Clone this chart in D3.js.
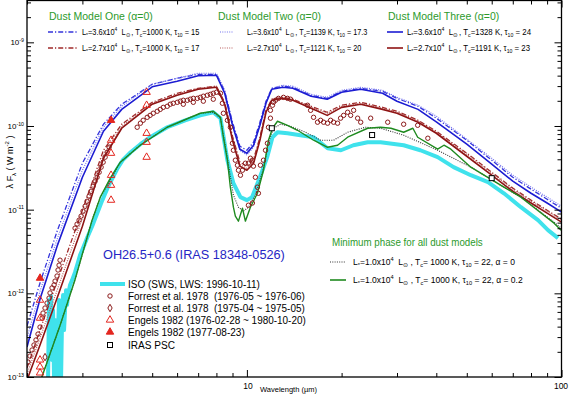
<!DOCTYPE html>
<html><head><meta charset="utf-8">
<script src="https://cdn.jsdelivr.net/npm/d3@7"></script>
<style>body{margin:0;background:#fff}svg{display:block}text{font-family:"Liberation Sans",Arial,Helvetica,sans-serif;white-space:pre}</style>
</head><body><svg id="c" width="570" height="396"></svg>
<script>
// ---------- data ----------
const lamGrid = [2,2.2,2.5,3,3.5,4,5,6,7,8,8.5,9,9.5,10,10.5,11,11.5,12,13,14,16,18,20,23,27,30,35,40,50,60,70,80,90,100];
const blueOne = [4.06e-13,1.33e-12,5.69e-12,3.59e-11,1.05e-10,1.82e-10,3.15e-10,3.72e-10,4.15e-10,4.15e-10,2.60e-10,1.11e-10,5.73e-11,5.13e-11,6.40e-11,1.11e-10,1.98e-10,2.82e-10,2.99e-10,2.90e-10,2.33e-10,2.14e-10,2.60e-10,2.82e-10,2.60e-10,2.14e-10,1.72e-10,1.24e-10,6.76e-11,3.90e-11,2.44e-11,1.76e-11,1.33e-11,1.04e-11];
const redOne = [1.28e-13,3.64e-13,1.44e-12,9.86e-12,5.13e-11,1.05e-10,1.92e-10,2.46e-10,2.82e-10,2.99e-10,1.92e-10,7.55e-11,3.69e-11,3.31e-11,4.01e-11,7.34e-11,1.54e-10,2.09e-10,2.20e-10,2.09e-10,1.72e-10,1.46e-10,1.77e-10,1.92e-10,1.67e-10,1.50e-10,1.17e-10,8.65e-11,4.73e-11,2.80e-11,1.81e-11,1.30e-11,9.86e-12,7.70e-12];
const blueTwo = [2.92e-13,1.06e-12,4.57e-12,2.96e-11,9.66e-11,1.72e-10,3.15e-10,3.72e-10,4.27e-10,4.27e-10,2.67e-10,1.08e-10,5.13e-11,4.48e-11,5.57e-11,1.05e-10,1.92e-10,2.82e-10,3.07e-10,2.99e-10,2.39e-10,2.20e-10,2.67e-10,2.90e-10,2.67e-10,2.20e-10,1.77e-10,1.31e-10,6.95e-11,4.12e-11,2.58e-11,1.86e-11,1.41e-11,1.10e-11];
const redTwo = [1.09e-13,2.92e-13,1.12e-12,7.92e-12,4.48e-11,9.93e-11,1.87e-10,2.39e-10,2.82e-10,2.99e-10,1.87e-10,7.14e-11,3.49e-11,3.13e-11,3.79e-11,7.14e-11,1.50e-10,2.09e-10,2.20e-10,2.09e-10,1.67e-10,1.42e-10,1.72e-10,1.87e-10,1.63e-10,1.46e-10,1.14e-10,8.42e-11,4.60e-11,2.73e-11,1.76e-11,1.26e-11,9.60e-12,7.49e-12];
const blueThree = [2.28e-13,8.54e-13,3.77e-12,2.44e-11,8.65e-11,1.58e-10,2.94e-10,3.42e-10,3.98e-10,4.04e-10,2.46e-10,1.02e-10,5.28e-11,4.73e-11,5.89e-11,1.02e-10,1.87e-10,2.75e-10,2.90e-10,2.83e-10,2.27e-10,2.09e-10,2.53e-10,2.75e-10,2.46e-10,1.98e-10,1.58e-10,1.12e-10,6.06e-11,3.49e-11,2.19e-11,1.57e-11,1.20e-11,9.33e-12];
const redThree = [9.2e-14,2.41e-13,9.02e-13,6.35e-12,4.12e-11,9.40e-11,1.82e-10,2.33e-10,2.75e-10,2.90e-10,1.82e-10,6.76e-11,3.31e-11,2.96e-11,3.59e-11,6.76e-11,1.46e-10,2.03e-10,2.14e-10,2.03e-10,1.63e-10,1.34e-10,1.67e-10,1.82e-10,1.58e-10,1.42e-10,1.11e-10,8.19e-11,4.35e-11,2.58e-11,1.66e-11,1.20e-11,9.08e-12,7.09e-12];

const minGreenLam = [2.23,2.55,2.84,3.22,3.42,3.68,3.96,4.58,5.58,7.11,7.82,8.24,8.42,8.67,8.86,9.06,9.19,9.40,9.68,9.89,10.26,10.80,11.29,11.71,12.06,12.51,13.46,14.48,16.29,18.05,19.42,20.9,24.2,26.6,28.7,31.5,33.7,34.9,40.4,42.3,44.5,51.5,65.6,74.3,94.7,99.7];
const minGreenF = [1.0e-13,4.18e-13,1.44e-12,7.49e-12,1.41e-11,2.38e-11,3.69e-11,5.89e-11,9.66e-11,1.42e-10,1.50e-10,1.27e-10,7.34e-11,3.90e-11,1.86e-11,1.07e-11,8.36e-12,7.29e-12,1.04e-11,7.29e-12,1.07e-11,1.57e-11,2.96e-11,6.76e-11,9.40e-11,1.14e-10,1.02e-10,8.89e-11,6.76e-11,5.57e-11,5.89e-11,7.34e-11,9.40e-11,9.66e-11,9.40e-11,8.42e-11,9.40e-11,7.34e-11,5.28e-11,5.89e-11,5.28e-11,3.22e-11,1.86e-11,1.41e-11,6.90e-12,5.69e-12];
const minDotLam = [2.23,2.55,2.84,3.22,3.42,3.96,4.58,5.58,7.11,7.82,8.24,8.67,9.06,9.40,9.75,10.11,10.64,11.29,11.71,12.15,12.79,13.76,15.36,17.15,18.86,20.9,23.8,26.6,31.5,40.4,51.5,65.6,74.3,94.7,99.7];
const minDotF = [1.0e-13,4.18e-13,1.44e-12,7.49e-12,1.41e-11,3.69e-11,5.89e-11,9.66e-11,1.42e-10,1.46e-10,1.24e-10,4.12e-11,1.49e-11,1.07e-11,9.60e-12,1.07e-11,1.49e-11,3.13e-11,6.40e-11,9.40e-11,1.05e-10,9.93e-11,8.42e-11,6.76e-11,6.76e-11,8.42e-11,9.66e-11,9.40e-11,7.76e-11,5.13e-11,3.22e-11,1.86e-11,1.41e-11,7.09e-12,6.01e-12];

const isoLam = [2.333,2.350,2.367,2.385,2.402,2.420,2.438,2.456,2.474,2.492,2.510,2.529,2.547,2.566,2.585,2.604,2.623,2.642,2.662,2.681,2.701,2.741,2.782,2.843,2.906,2.949,3.014,3.104,3.222,3.344,3.472,3.603,3.740,3.882,4.029,4.271,4.587,4.925,5.583,6.362,7.11,7.82,8.24,8.67,9.06,9.54,10.0,10.38,11.0,11.6,12.06,12.51,13.46,14.8,16.3,18.05,19.9,21.8,24.2,26.6,31.5,35.6,40.4,45.4,51.5,58.4,65.6,74.3,84.2,90.6,97.5];
const isoF = [9.2e-14,8.30e-13,3.64e-13,9.27e-13,1.60e-13,6.31e-13,9.2e-14,4.80e-13,2.77e-13,9.2e-14,3.64e-13,8.30e-13,2.77e-13,9.2e-14,4.80e-13,9.53e-13,3.64e-13,6.31e-13,1.09e-12,7.24e-13,9.53e-13,1.26e-12,1.44e-12,1.79e-12,2.36e-12,2.86e-12,3.47e-12,4.57e-12,6.35e-12,9.08e-12,1.30e-11,1.81e-11,2.38e-11,3.13e-11,3.90e-11,4.86e-11,6.06e-11,7.34e-11,9.66e-11,1.17e-10,1.34e-10,1.46e-10,1.24e-10,3.90e-11,2.07e-11,1.41e-11,1.30e-11,1.41e-11,2.44e-11,4.24e-11,7.34e-11,8.42e-11,8.19e-11,7.76e-11,7.34e-11,5.42e-11,5.13e-11,5.89e-11,6.40e-11,6.40e-11,5.89e-11,5.13e-11,4.24e-11,3.22e-11,2.58e-11,2.13e-11,1.57e-11,1.07e-11,7.49e-12,5.69e-12,4.57e-12];

const forrest76Lam = [2.015,2.044,2.075,2.105,2.136,2.168,2.200,2.233,2.249,2.282,2.316,2.350,2.367,2.402,2.438,2.456,2.492,2.510,2.529,2.547,
 2.843,2.885,2.928,2.971,3.014,3.060,3.104,3.151,3.198,3.245,3.293,3.341,3.391,3.441,3.492,3.543,3.596,3.649,
 4.480,4.587,4.681,4.821,4.925,5.039,5.188,5.304,5.422,5.583,5.707,5.835,6.010,6.144,6.279,6.466,6.609,6.756,6.957,7.11,7.270,7.486,7.653,7.82,8.0,6.279,6.756,7.270,7.82,
 8.24,8.357,8.42,8.67,8.86,8.995,9.06,9.19,9.331,9.40,9.54,9.68,9.89,10.11,10.26,10.41,10.49,10.64,10.80,10.88,10.11,10.41,11.04,11.29,11.46,11.62,11.71,11.88,11.88,12.06,12.15,12.33,12.60,13.07,13.46,13.76,
 15.59,15.94,16.29,16.77,17.15,17.53,18.05,18.45,18.86,19.42,19.85,20.30,20.9,21.37,21.84,22.49,23.0,24.74,28.03,31.5,34.9,37.6];
const forrest76F = [1.51e-13,1.78e-13,2.10e-13,2.41e-13,2.77e-13,3.26e-13,3.95e-13,5.06e-13,5.81e-13,6.67e-13,7.65e-13,8.77e-13,1.01e-12,1.16e-12,1.26e-12,1.40e-12,1.61e-12,1.90e-12,2.17e-12,2.49e-12,
 6.01e-12,6.71e-12,7.49e-12,8.36e-12,9.60e-12,1.10e-11,1.26e-11,1.45e-11,1.66e-11,1.91e-11,2.19e-11,2.44e-11,2.80e-11,3.22e-11,3.69e-11,4.24e-11,4.86e-11,5.57e-11,
 9.66e-11,1.08e-10,1.17e-10,1.27e-10,1.34e-10,1.42e-10,1.50e-10,1.58e-10,1.67e-10,1.72e-10,1.82e-10,1.87e-10,1.92e-10,1.98e-10,2.03e-10,2.03e-10,2.09e-10,2.14e-10,2.14e-10,2.20e-10,2.27e-10,2.33e-10,2.39e-10,2.46e-10,2.53e-10,1.82e-10,1.92e-10,1.98e-10,2.09e-10,
 2.46e-10,1.87e-10,1.42e-10,1.17e-10,9.66e-11,6.22e-11,5.13e-11,3.90e-11,3.40e-11,2.96e-11,2.58e-11,2.96e-11,3.59e-11,3.59e-11,4.12e-11,3.90e-11,3.31e-11,2.44e-11,1.86e-11,1.57e-11,1.13e-11,1.20e-11,3.40e-11,3.90e-11,5.13e-11,6.22e-11,9.66e-11,1.24e-10,1.54e-10,1.77e-10,1.92e-10,2.03e-10,2.14e-10,2.20e-10,2.14e-10,2.09e-10,
 1.77e-10,1.54e-10,1.27e-10,1.11e-10,1.17e-10,1.11e-10,1.08e-10,1.17e-10,1.11e-10,1.08e-10,1.24e-10,1.34e-10,1.46e-10,1.34e-10,1.54e-10,1.24e-10,1.11e-10,1.24e-10,1.11e-10,1.05e-10,1.02e-10,7.14e-11];
const forrest75Lam = [2.282];
const forrest75F = [1.73e-13];
const engelsLam = [2.2,2.2,2.2,2.2,2.2,3.7,3.7,3.7,3.7,3.7,4.8,4.8,4.8,4.8,4.8];
const engelsF = [8.30e-13,5.06e-13,1.60e-13,1.32e-13,1.12e-13,6.76e-11,4.73e-11,2.58e-11,1.96e-11,1.30e-11,2.53e-10,1.77e-10,8.19e-11,6.40e-11,4.24e-11];
const engels77Lam = [2.2,3.7];
const engels77F = [1.52e-12,1.17e-10];
const irasLam = [12,25,60];
const irasF = [9.4e-11,7.8e-11,2.38e-11];

const yMajor = [1e-13,1e-12,1e-11,1e-10,1e-9];
const yExp = ["-13","-12","-11","-10","-9"];
const xMajor = [10,100];
const xMajorLabels = ["10","100"];

const modelTitles = ["Dust Model One (α=0)","Dust Model Two (α=0)","Dust Model Three (α=0)"];
const modelLum = ["3.6","2.7"];
const modelTc = [["1000","1000"],["1139","1121"],["1328","1191"]];
const modelTau = [["15","17"],["17.3","20"],["24","23"]];
const minTitle = "Minimum phase for all dust models";
const minAlpha = ["0","0.2"];
const obsTitle = "OH26.5+0.6 (IRAS 18348-0526)";
const obsLabels = ["ISO (SWS, LWS: 1996-10-11)","Forrest et al. 1978  (1976-05 ~ 1976-06)","Forrest et al. 1978  (1975-04 ~ 1975-05)","Engels 1982 (1976-02-28 ~ 1980-10-20)","Engels 1982 (1977-08-23)","IRAS PSC"];

// ---------- setup ----------
const svg = d3.select("#c");
const X0=27, X1=561.5, Y0=0.5, Y1=377;
const x = d3.scaleLog().domain([2,100]).range([X0,X1]);
const y = d3.scaleLog().domain([1e-13,3.162e-9]).range([Y1,Y0]);
const FONT='"Liberation Sans",Arial,Helvetica,sans-serif';

svg.append("clipPath").attr("id","clip").append("rect")
  .attr("x",X0).attr("y",Y0).attr("width",X1-X0).attr("height",Y1-Y0);
const plot = svg.append("g").attr("clip-path","url(#clip)");
const zip = (a,b)=>a.map((v,i)=>[v,b[i]]);
const line = d3.line().x(d=>x(d[0])).y(d=>y(d[1]));

const C = {
  blue:"#1c1cd2", blueDD:"#3434dc", blueDot:"#7272ee",
  red:"#8e1414", redDD:"#a02a2a", redDot:"#b85a5a",
  green:"#1f8a1f", cyan:"#3fe2ec", circ:"#8b1a1a", tri:"#e3261f", title:"#2c9a2c"
};
const DD="5,2,1.2,2", DOT="1,1.3";

function drawLine(data,color,w,dash){
  const p=plot.append("path").datum(data).attr("d",line).attr("fill","none")
    .attr("stroke",color).attr("stroke-width",w).attr("stroke-linejoin","round");
  if(dash) p.attr("stroke-dasharray",dash);
}
// ISO
drawLine(zip(isoLam,isoF),C.cyan,4,null);
// models
drawLine(zip(lamGrid,blueOne),C.blueDD,1.3,DD);
drawLine(zip(lamGrid,redOne),C.redDD,1.3,DD);
drawLine(zip(lamGrid,blueTwo),C.blueDot,1.2,DOT);
drawLine(zip(lamGrid,redTwo),C.redDot,1.2,DOT);
drawLine(zip(lamGrid,blueThree),C.blue,1.6,null);
drawLine(zip(lamGrid,redThree),C.red,1.6,null);
drawLine(zip(minDotLam,minDotF),"#333",1.1,DOT);
drawLine(zip(minGreenLam,minGreenF),C.green,1.4,null);

// markers
plot.selectAll(".f76").data(zip(forrest76Lam,forrest76F)).join("circle")
  .attr("cx",d=>x(d[0])).attr("cy",d=>y(d[1])).attr("r",2.2)
  .attr("fill","none").attr("stroke",C.circ).attr("stroke-width",1);
const diamond=d3.symbol().type(d3.symbolDiamond).size(16);
const tri=d3.symbol().type(d3.symbolTriangle).size(24);
plot.selectAll(".f75").data(zip(forrest75Lam,forrest75F)).join("path")
  .attr("d",diamond).attr("transform",d=>`translate(${x(d[0])},${y(d[1])})`)
  .attr("fill","none").attr("stroke",C.circ).attr("stroke-width",1);
plot.selectAll(".e82").data(zip(engelsLam,engelsF)).join("path")
  .attr("d",tri).attr("transform",d=>`translate(${x(d[0])},${y(d[1])})`)
  .attr("fill","none").attr("stroke",C.tri).attr("stroke-width",1);
plot.selectAll(".e77").data(zip(engels77Lam,engels77F)).join("path")
  .attr("d",tri).attr("transform",d=>`translate(${x(d[0])},${y(d[1])})`)
  .attr("fill",C.tri).attr("stroke",C.tri).attr("stroke-width",1);
plot.selectAll(".ir").data(zip(irasLam,irasF)).join("rect")
  .attr("x",d=>x(d[0])-2.5).attr("y",d=>y(d[1])-2.5).attr("width",5).attr("height",5)
  .attr("fill","#fff").attr("stroke","#000").attr("stroke-width",1);

// ---------- axes ----------
const yMinor=[]; yMajor.forEach(v=>{for(let m=2;m<=9;m++){const t=v*m; if(t<3.16e-9) yMinor.push(t);}});
const xMinor=[]; [1,10].forEach(v=>{for(let m=2;m<=9;m++){const t=v*m; if(t>=2&&t<100) xMinor.push(t);}});
function ax(axisFn,scale,vals,size,tr){
  const g=svg.append("g").attr("transform",tr).call(axisFn(scale).tickValues(vals).tickSize(size).tickFormat(""));
  g.select(".domain").remove();
  g.selectAll("line").attr("stroke","#000").attr("stroke-width",1);
}
ax(d3.axisRight,y,yMajor,7,`translate(${X0},0)`);
ax(d3.axisRight,y,yMinor,4,`translate(${X0},0)`);
ax(d3.axisLeft,y,yMajor,7,`translate(${X1},0)`);
ax(d3.axisLeft,y,yMinor,4,`translate(${X1},0)`);
ax(d3.axisTop,x,xMajor,7,`translate(0,${Y1})`);
ax(d3.axisTop,x,xMinor,4,`translate(0,${Y1})`);
ax(d3.axisBottom,x,xMajor,7,`translate(0,${Y0})`);
ax(d3.axisBottom,x,xMinor,4,`translate(0,${Y0})`);
svg.append("rect").attr("x",X0).attr("y",Y0).attr("width",X1-X0).attr("height",Y1-Y0)
  .attr("fill","none").attr("stroke","#000").attr("stroke-width",1.3);

// rich text helper
function rich(parent,parts,x0,y0,size,color,anchor,targetW,rot){
  const t=parent.append("text").attr("x",0).attr("y",0).attr("font-size",size)
    .attr("fill",color).attr("text-anchor",anchor||"start").style("font-family",FONT);
  let cur=0;
  parts.forEach(p=>{
    const k=p[1]; const off=k==="sub"?size*0.28:k==="sup"?-size*0.42:0;
    const ts=t.append("tspan").attr("dy",off-cur).text(p[0]);
    if(k) ts.attr("font-size",size*0.66);
    cur=off;
  });
  let sx=1;
  if(targetW){const w=t.node().getComputedTextLength(); if(w>0) sx=targetW/w;}
  t.attr("transform",`translate(${x0},${y0})${rot?` rotate(${rot})`:""} scale(${sx},1)`);
  return t;
}
// y tick labels
yMajor.forEach((v,i)=>rich(svg,[["10"],[yExp[i],"sup"]],24,y(v)+3,8,"#000","end"));
xMajor.forEach((v,i)=>rich(svg,[[xMajorLabels[i]]],i===1?561:248,389,8.5,"#000","middle"));
rich(svg,[["Wavelength (µm)"]],260,392,7.5,"#000","start",57);
rich(svg,[["λ F"],["λ","sub"],[" ( W m"],["-2","sup"],[" )"]],13,162,9,"#000","middle",null,-90);

// ---------- model legend ----------
const lg=svg.append("g");
const titleX=[49,218,388], lineX=[[48,77],[220,233],[387,403]], textX=[82,247,407];
const textW=[[118,118],[121,115],[125,124]];
const rowsY=[32,48];
const styles=[[[C.blueDD,DD,1.3],[C.redDD,DD,1.3]],[[C.blueDot,DOT,1.2],[C.redDot,DOT,1.2]],[[C.blue,null,1.6],[C.red,null,1.6]]];
modelTitles.forEach((tt,m)=>{
  rich(lg,[[tt]],titleX[m],20,10.5,C.title,"start",null);
  rowsY.forEach((ry,r)=>{
    const st=styles[m][r];
    const l=lg.append("line").attr("x1",lineX[m][0]).attr("x2",lineX[m][1]).attr("y1",ry).attr("y2",ry)
      .attr("stroke",st[0]).attr("stroke-width",st[2]);
    if(st[1]) l.attr("stroke-dasharray",st[1]);
    rich(lg,[["L"],["*","sub"],["=" + modelLum[r] + "x10"],["4","sup"],["  L"],["⊙","sub"],[" , T"],["c","sub"],["=" + modelTc[m][r] + " K, τ"],["10","sub"],[" = " + modelTau[m][r]]],
      textX[m],ry+3,8.5,"#000","start",textW[m][r]);
  });
});
// min phase legend
rich(lg,[[minTitle]],332,246,10.5,C.title,"start",151);
[[262,"#333",DOT,1.1],[280,C.green,null,1.6]].forEach((s,r)=>{
  const l=lg.append("line").attr("x1",330).attr("x2",346).attr("y1",s[0]).attr("y2",s[0])
    .attr("stroke",s[1]).attr("stroke-width",s[3]);
  if(s[2]) l.attr("stroke-dasharray",s[2]);
  rich(lg,[["L"],["*","sub"],["=1.0x10"],["4","sup"],["  L"],["⊙","sub"],[" , T"],["c","sub"],["= 1000 K, τ"],["10","sub"],[" = 22, α = " + minAlpha[r]]],
    353,s[0]+3,8.5,"#000","start",r===0?162:170);
});
// observation legend
rich(lg,[[obsTitle]],103,259,13,"#2626c4","start",182);
const obsY=[284,296,308,320,332,345];
const obsW=[132,177,177,178,117,47];
obsLabels.forEach((t,i)=>rich(lg,[[t]],128,obsY[i]+3.5,10,"#000","start",obsW[i]));
lg.append("line").attr("x1",100).attr("x2",125).attr("y1",obsY[0]).attr("y2",obsY[0]).attr("stroke",C.cyan).attr("stroke-width",4);
lg.append("circle").attr("cx",110).attr("cy",obsY[1]).attr("r",2.2).attr("fill","none").attr("stroke",C.circ);
lg.append("path").attr("d",diamond).attr("transform",`translate(110,${obsY[2]})`).attr("fill","none").attr("stroke",C.circ);
lg.append("path").attr("d",tri).attr("transform",`translate(110,${obsY[3]})`).attr("fill","none").attr("stroke",C.tri);
lg.append("path").attr("d",tri).attr("transform",`translate(110,${obsY[4]})`).attr("fill",C.tri).attr("stroke",C.tri);
lg.append("rect").attr("x",107.5).attr("y",obsY[5]-2.5).attr("width",5).attr("height",5).attr("fill","#fff").attr("stroke","#000");
</script></body></html>
